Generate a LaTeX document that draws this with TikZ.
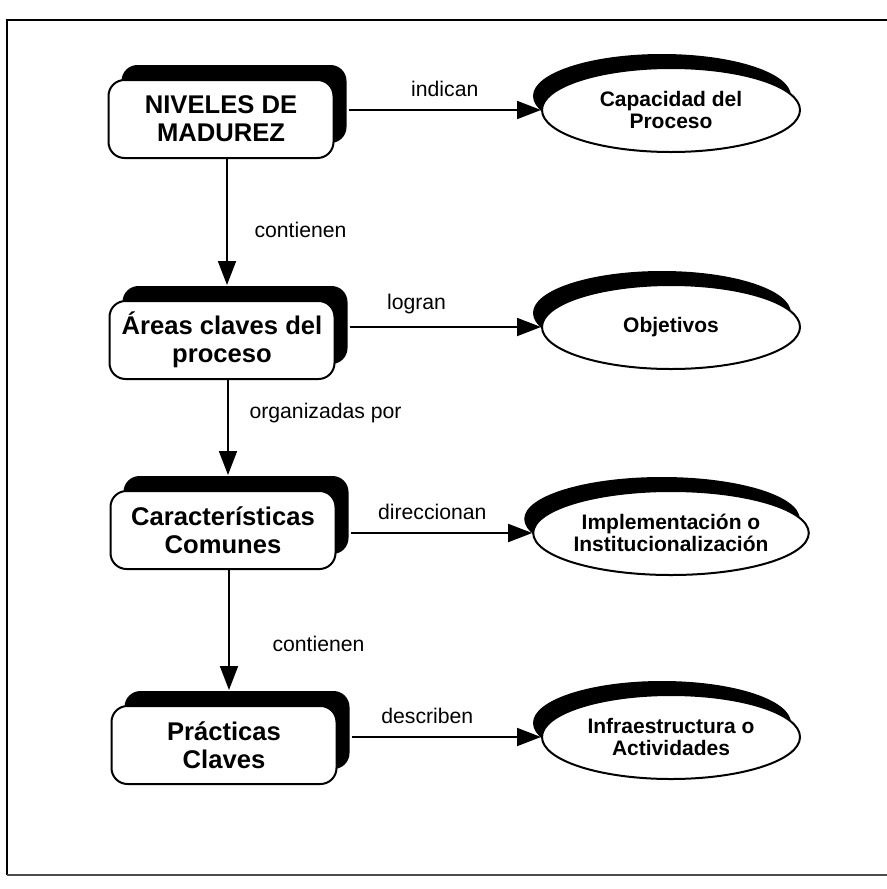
\documentclass[tikz,border=0pt]{standalone}
\usepackage{fontspec}
\setmainfont{Liberation Sans}
\usetikzlibrary{arrows.meta,shadows,shapes.geometric}

\begin{document}
\begin{tikzpicture}[x=0.5pt,y=-0.5pt,
  every node/.style={font=\fontsize{10.6}{12}\selectfont},
  nivel/.style={draw,line width=1pt,fill=white,rounded corners=8pt,minimum width=112.5pt,minimum height=39pt,
    align=center,inner sep=2pt,font=\bfseries\fontsize{12.8}{14}\selectfont,
    drop shadow={shadow xshift=6.5pt,shadow yshift=7.5pt,fill=black,opacity=1}},
  meta/.style={draw,line width=1pt,fill=white,ellipse,minimum width=129pt,minimum height=42pt,
    align=center,inner sep=0pt,font=\bfseries\fontsize{10.5}{11}\selectfont,
    drop shadow={shadow xshift=-4.5pt,shadow yshift=7pt,fill=black,opacity=1}},
  flecha/.style={-{Triangle[length=12pt,width=9pt]},line width=0.9pt}]
\useasboundingbox (0,0) rectangle (887,889);
% marco
\draw[line width=1.2pt] (887,20) -- (7,20) -- (7,875);
\draw[line width=0.8pt,black!70] (7,875) -- (887,875);
% niveles
\node[nivel] (b1) at (221,119) {NIVELES DE\\MADUREZ};
\node[nivel] (b2) at (222,340) {Áreas claves del\\proceso};
\node[nivel] (b3) at (223,530) {Características\\Comunes};
\node[nivel] (b4) at (224,745) {Prácticas\\Claves};
% metas
\node[meta] (e1) at (671,110) {Capacidad del\\Proceso};
\node[meta] (e2) at (671,327) {Objetivos};
\node[meta] (e3) at (671,533) {Implementación o\\Institucionalización};
\node[meta] (e4) at (671,737) {Infraestructura o\\Actividades};
% relaciones
\draw[flecha] ([xshift=7pt]b1.east |- e1.west) -- (e1.west) node[midway,above=3pt] {indican};
\draw[flecha] ([xshift=7pt]b2.east |- e2.west) -- (e2.west) node[pos=.35,above=3pt] {logran};
\draw[flecha] ([xshift=7pt]b3.east |- e3.west) -- (e3.west) node[pos=.45,above=3pt] {direccionan};
\draw[flecha] ([xshift=7pt]b4.east |- e4.west) -- (e4.west) node[pos=.4,above=3pt] {describen};
\draw[flecha,shorten >=7.5pt] ([xshift=3pt]b1.south) -- ([xshift=3pt]b1.south |- b2.north)
  node[midway,right=10pt] {contienen};
\draw[flecha,shorten >=7.5pt] ([xshift=3pt]b2.south) -- ([xshift=3pt]b2.south |- b3.north)
  node[pos=.3,right=7pt] {organizadas por};
\draw[flecha,shorten >=7.5pt] ([xshift=3pt]b3.south) -- ([xshift=3pt]b3.south |- b4.north)
  node[pos=.55,right=18pt] {contienen};
\end{tikzpicture}
\end{document}
